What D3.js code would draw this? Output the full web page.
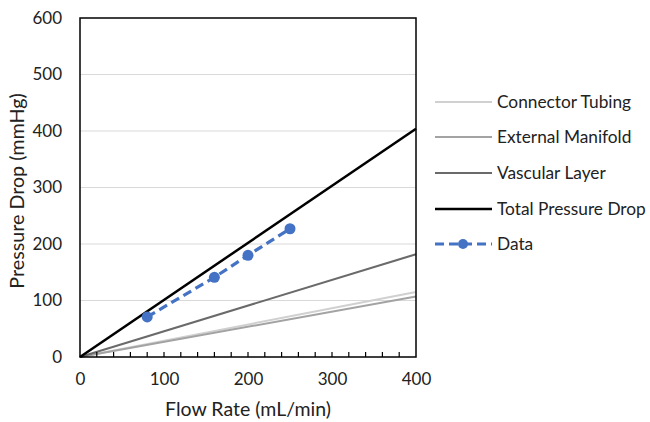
<!DOCTYPE html>
<html>
<head>
<meta charset="utf-8">
<script src="https://cdn.jsdelivr.net/npm/d3@7"></script>
<style>
  html, body { margin: 0; padding: 0; background: #fff; }
  svg text { font-family: Lato, "Open Sans", sans-serif; fill: #222; }
</style>
</head>
<body>
<svg id="chart" width="650" height="422"></svg>
<script>
// Flow rate endpoints of the model lines (mL/min)
const modelFlow = [0, 400];
// Modelled pressure drop at those flow rates (mmHg)
const connectorTubing = [0, 115];
const externalManifold = [0, 107];
const vascularLayer = [0, 182];
const totalPressureDrop = [0, 404];
// Measured points
const dataFlow = [80, 160, 200, 250];
const dataPressure = [71, 141, 180, 227];
// Axis ticks
const xTicks = [0, 100, 200, 300, 400];
const xMinorTicks = d3.range(0, 401, 20);
const yTicks = [0, 100, 200, 300, 400, 500, 600];

const seriesNames = ["Connector Tubing", "External Manifold", "Vascular Layer", "Total Pressure Drop", "Data"];
const seriesColors = ["#d0d0d0", "#a3a3a3", "#6a6a6a", "#000000", "#4472c4"];
const modelSeries = [connectorTubing, externalManifold, vascularLayer, totalPressureDrop];

const svg = d3.select("#chart");
const plotLeft = 80, plotRight = 416, plotTop = 18, plotBottom = 357;

const x = d3.scaleLinear().domain([0, 400]).range([plotLeft, plotRight]);
const y = d3.scaleLinear().domain([0, 600]).range([plotBottom, plotTop]);

// Horizontal gridlines
svg.append("g")
  .selectAll("line")
  .data(yTicks.filter(v => v > 0 && v < 600))
  .join("line")
  .attr("x1", plotLeft).attr("x2", plotRight)
  .attr("y1", d => y(d)).attr("y2", d => y(d))
  .attr("stroke", "#d9d9d9").attr("stroke-width", 1.2);

// Model lines
const line = d3.line().x(d => x(d[0])).y(d => y(d[1]));
modelSeries.forEach((vals, i) => {
  svg.append("path")
    .datum(modelFlow.map((f, k) => [f, vals[k]]))
    .attr("d", line)
    .attr("fill", "none")
    .attr("stroke", seriesColors[i])
    .attr("stroke-width", i === 3 ? 2.5 : 2);
});

// Measured data, dashed with markers
const pts = dataFlow.map((f, k) => [f, dataPressure[k]]);
svg.append("path")
  .datum(pts)
  .attr("d", line)
  .attr("fill", "none")
  .attr("stroke", seriesColors[4])
  .attr("stroke-width", 3.2)
  .attr("stroke-dasharray", "9,5");
svg.append("g")
  .selectAll("circle")
  .data(pts)
  .join("circle")
  .attr("cx", d => x(d[0])).attr("cy", d => y(d[1]))
  .attr("r", 5.5)
  .attr("fill", seriesColors[4]);

// Frame
svg.append("rect")
  .attr("x", plotLeft).attr("y", plotTop)
  .attr("width", plotRight - plotLeft).attr("height", plotBottom - plotTop)
  .attr("fill", "none").attr("stroke", "#000").attr("stroke-width", 1.5);

// X axis with inward minor ticks
const xAxis = d3.axisBottom(x).tickValues(xTicks).tickSize(0).tickPadding(16)
  .tickFormat(d3.format("d"));
const gx = svg.append("g").attr("transform", `translate(0,${plotBottom})`).call(xAxis);
gx.select(".domain").remove();
gx.selectAll("text").attr("font-size", 17).style("font-family", "Lato, sans-serif").attr("fill", "#222");
svg.append("g")
  .selectAll("line")
  .data(xMinorTicks.filter(v => v > 0 && v < 400))
  .join("line")
  .attr("x1", d => x(d)).attr("x2", d => x(d))
  .attr("y1", plotBottom).attr("y2", plotBottom - 5)
  .attr("stroke", "#000").attr("stroke-width", 1.2);

// Y axis labels
const yAxis = d3.axisLeft(y).tickValues(yTicks).tickSize(0).tickPadding(18)
  .tickFormat(d3.format("d"));
const gy = svg.append("g").attr("transform", `translate(${plotLeft},0)`).call(yAxis);
gy.select(".domain").remove();
gy.selectAll("text").attr("font-size", 17).style("font-family", "Lato, sans-serif").attr("fill", "#222");

// Axis titles
svg.append("text")
  .attr("x", 248).attr("y", 409).attr("dy", "0.35em")
  .attr("text-anchor", "middle").attr("font-size", 19.5)
  .text("Flow Rate (mL/min)");
svg.append("text")
  .attr("transform", "translate(17,191) rotate(-90)")
  .attr("dy", "0.35em")
  .attr("text-anchor", "middle").attr("font-size", 19.7)
  .text("Pressure Drop (mmHg)");

// Legend
const legendY = [102, 137, 173, 209, 244];
const lg = svg.append("g");
seriesNames.forEach((name, i) => {
  const g = lg.append("g").attr("transform", `translate(0,${legendY[i]})`);
  const isData = i === 4;
  g.append("line")
    .attr("x1", 435).attr("x2", 492)
    .attr("stroke", seriesColors[i])
    .attr("stroke-width", isData ? 3.2 : (i === 3 ? 2.5 : 2))
    .attr("stroke-dasharray", isData ? "9,5" : null);
  if (isData) {
    g.append("circle").attr("cx", 463).attr("cy", 0).attr("r", 5).attr("fill", seriesColors[4]);
  }
  g.append("text")
    .attr("x", 497).attr("y", 0).attr("dy", "0.35em")
    .attr("font-size", 17.3)
    .text(name);
});
</script>
</body>
</html>
